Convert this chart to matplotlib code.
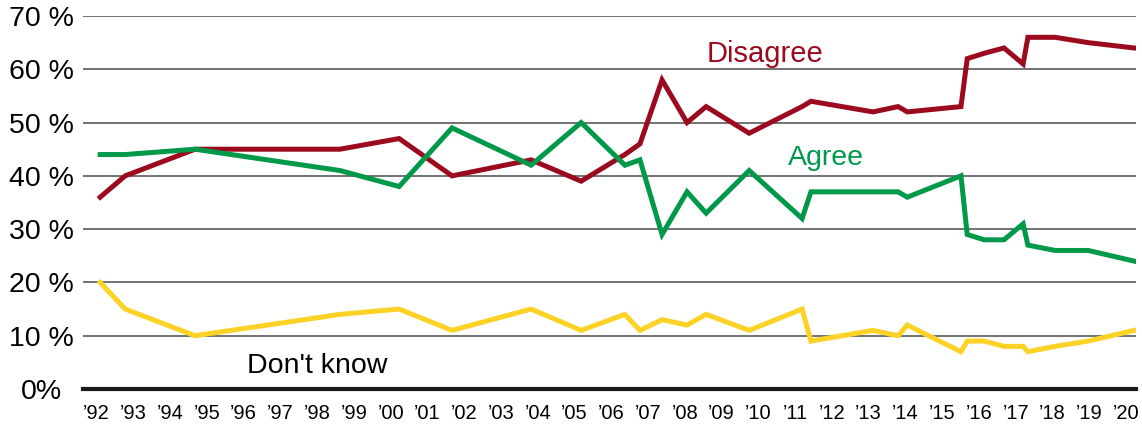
import matplotlib
matplotlib.use("Agg")
import matplotlib.pyplot as plt

# survey dates as decimal years
YEARS = [1992.10, 1992.78, 1994.68, 1998.62, 2000.23, 2001.67, 2003.82, 2005.18,
         2006.37, 2006.78, 2007.38, 2008.06, 2008.58, 2009.75, 2011.19, 2011.43,
         2013.12, 2013.80, 2014.05, 2015.51, 2015.68, 2016.14, 2016.68, 2017.20,
         2017.33, 2018.07, 2018.97, 2020.22]
DISAGREE = [36, 40, 45, 45, 47, 40, 43, 39, 44, 46, 58, 50, 53, 48, 53, 54,
            52, 53, 52, 53, 62, 63, 64, 61, 66, 66, 65, 64]
AGREE = [44, 44, 45, 41, 38, 49, 42, 50, 42, 43, 29, 37, 33, 41, 32, 37,
         37, 37, 36, 40, 29, 28, 28, 31, 27, 26, 26, 24]
DONT_KNOW = [20, 15, 10, 14, 15, 11, 15, 11, 14, 11, 13, 12, 14, 11, 15, 9,
             11, 10, 12, 7, 9, 9, 8, 8, 7, 8, 9, 11]

YTICKS = [0, 10, 20, 30, 40, 50, 60, 70]
YTICK_LABELS = ["0%", "10 %", "20 %", "30 %", "40 %", "50 %", "60 %", "70 %"]
XTICKS = list(range(1992, 2021))
XTICK_LABELS = ["\u2019%02d" % (y % 100) for y in XTICKS]

RED = "#9b0a1f"
GREEN = "#00994a"
YELLOW = "#fcd226"

plt.rcParams["font.family"] = ["Liberation Sans", "DejaVu Sans"]

fig = plt.figure(figsize=(11.42, 4.28), dpi=100)
ax = fig.add_axes([83 / 1142, 1 - 389 / 428, 1053 / 1142, 373 / 428])

ax.plot(YEARS, DISAGREE, color=RED, lw=3.6, solid_joinstyle="miter", zorder=3)
ax.plot(YEARS, AGREE, color=GREEN, lw=3.6, solid_joinstyle="miter", zorder=4)
ax.plot(YEARS, DONT_KNOW, color=YELLOW, lw=3.6, solid_joinstyle="miter", zorder=3)

ax.text(2010.18, 61.3, "Disagree", color=RED, fontsize=21, ha="center", va="baseline")
ax.text(2011.85, 42.0, "Agree", color=GREEN, fontsize=20.5, ha="center", va="baseline")
ax.text(1997.99, 3.0, "Don't know", color="black", fontsize=20.5, ha="center", va="baseline")

ax.set_xlim(1991.633, 2020.27)
ax.set_ylim(0, 70)
ax.set_yticks(YTICKS)
ax.set_yticklabels(YTICK_LABELS, fontsize=20.5, ha="center")
ax.set_xticks(XTICKS)
ax.set_xticklabels(XTICK_LABELS, fontsize=14.5)
ax.tick_params(axis="y", length=0, pad=30)
ax.tick_params(axis="x", length=0, pad=11)

for s in ["top", "right", "left"]:
    ax.spines[s].set_visible(False)
ax.spines["bottom"].set_linewidth(3)
ax.spines["bottom"].set_color("#1a1a1a")
ax.spines["bottom"].set_zorder(5)

ax.yaxis.grid(True, color="#5a5a5a", lw=1.2)
ax.set_axisbelow(True)

fig.savefig("out.png", dpi=100)
